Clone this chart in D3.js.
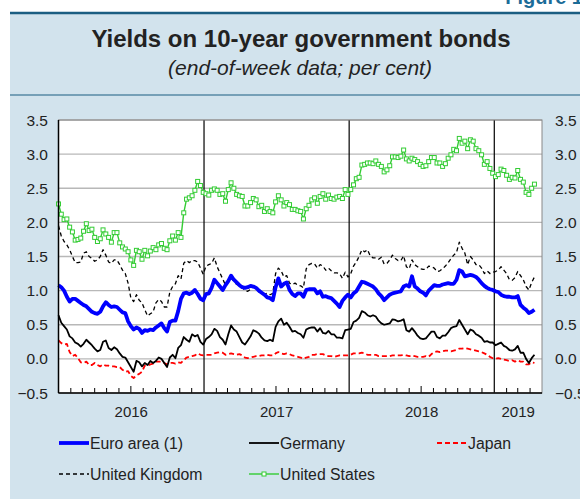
<!DOCTYPE html>
<html><head><meta charset="utf-8">
<script src="https://cdn.jsdelivr.net/npm/d3@7"></script>
<style>
html,body{margin:0;padding:0;background:#fff;}
svg{display:block;font-family:"Liberation Sans",Arial,sans-serif;}
</style></head>
<body><svg id="c" width="580" height="499"></svg>
<script>
// ---- data (end-of-week, from 1 Jan 2016, weekly) ----
const startDate = "2016-01-01";
const seriesNames = ["Euro area (1)", "Germany", "Japan", "United Kingdom", "United States"];
const yTicks = [-0.5, 0.0, 0.5, 1.0, 1.5, 2.0, 2.5, 3.0, 3.5];
const yearLabels = ["2016", "2017", "2018", "2019"];

const euroArea = [
 1.08,1.05,1.00,0.91,0.84,0.88,0.88,0.85,0.82,0.79,0.77,0.73,0.69,0.67,0.66,0.69,0.77,0.83,0.79,0.76,0.77,0.76,0.72,0.68,0.67,0.55,0.48,0.43,0.46,0.44,0.38,0.42,0.41,0.43,0.42,0.46,0.49,0.52,0.45,0.40,0.54,0.56,0.56,0.70,0.88,0.96,0.97,0.95,0.97,1.01,0.95,0.88,0.86,
 0.95,0.96,1.04,1.16,1.11,1.06,1.01,1.08,1.14,1.22,1.16,1.12,1.08,1.05,1.04,1.05,1.07,1.06,1.04,1.00,0.97,0.94,0.90,0.89,0.86,1.05,1.18,1.06,1.10,1.12,1.01,0.95,0.92,0.96,0.96,0.91,1.01,1.02,1.02,1.02,0.96,0.99,0.91,0.92,0.90,0.89,0.85,0.81,0.76,0.85,0.90,0.94,
 0.90,0.96,0.99,1.06,1.13,1.12,1.10,1.08,1.06,1.02,0.96,0.92,0.86,0.90,0.94,0.96,0.97,0.98,0.99,1.06,1.08,1.06,1.21,1.06,1.03,0.99,0.97,0.93,1.00,1.04,1.08,1.07,1.07,1.09,1.10,1.11,1.10,1.10,1.16,1.30,1.28,1.21,1.22,1.23,1.22,1.20,1.16,1.11,1.07,1.04,1.02,1.01,
 0.99,0.98,0.94,0.92,0.91,0.91,0.90,0.90,0.92,0.79,0.75,0.72,0.67,0.69,0.72];
const germany = [
 0.64,0.53,0.48,0.43,0.33,0.30,0.24,0.22,0.18,0.22,0.28,0.24,0.20,0.15,0.11,0.13,0.25,0.27,0.16,0.13,0.17,0.14,0.08,0.03,0.02,-0.05,-0.12,-0.19,-0.03,-0.05,-0.11,-0.06,-0.09,-0.03,-0.06,-0.03,0.02,0.00,-0.06,-0.12,0.02,0.06,0.01,0.16,0.20,0.32,0.28,0.25,0.36,0.33,0.35,0.25,0.21,
 0.29,0.32,0.36,0.44,0.41,0.32,0.28,0.21,0.36,0.49,0.43,0.40,0.32,0.24,0.21,0.27,0.33,0.42,0.40,0.37,0.31,0.27,0.26,0.28,0.26,0.47,0.55,0.59,0.50,0.53,0.47,0.40,0.41,0.38,0.36,0.31,0.43,0.45,0.46,0.46,0.40,0.45,0.38,0.37,0.41,0.36,0.36,0.31,0.31,0.30,0.42,0.43,
 0.44,0.54,0.56,0.60,0.70,0.68,0.64,0.62,0.64,0.62,0.56,0.52,0.50,0.51,0.52,0.58,0.57,0.55,0.56,0.58,0.42,0.40,0.45,0.40,0.34,0.30,0.29,0.30,0.35,0.40,0.40,0.32,0.30,0.34,0.34,0.39,0.45,0.47,0.48,0.57,0.50,0.43,0.36,0.43,0.41,0.36,0.34,0.31,0.25,0.26,0.24,0.24,
 0.20,0.22,0.24,0.19,0.17,0.13,0.12,0.14,0.19,0.09,0.09,0.00,-0.06,0.01,0.06];
const japan = [
 0.27,0.23,0.21,0.22,0.10,0.04,0.06,0.01,-0.05,-0.06,-0.04,-0.09,-0.09,-0.06,-0.09,-0.11,-0.08,-0.10,-0.10,-0.11,-0.11,-0.12,-0.12,-0.16,-0.19,-0.18,-0.25,-0.28,-0.24,-0.22,-0.19,-0.10,-0.10,-0.08,-0.07,-0.04,-0.04,-0.04,-0.06,-0.08,-0.06,-0.06,-0.07,-0.05,-0.06,-0.02,0.02,0.03,0.04,0.05,0.08,0.06,0.05,
 0.06,0.06,0.06,0.08,0.09,0.10,0.09,0.06,0.07,0.08,0.07,0.06,0.07,0.05,0.02,0.01,0.02,0.03,0.04,0.04,0.05,0.05,0.06,0.05,0.05,0.08,0.10,0.08,0.07,0.08,0.07,0.05,0.04,0.03,0.02,0.00,0.02,0.03,0.06,0.06,0.07,0.07,0.07,0.05,0.04,0.04,0.03,0.04,0.05,0.05,0.05,0.05,
 0.06,0.08,0.08,0.08,0.09,0.08,0.06,0.06,0.06,0.06,0.04,0.04,0.04,0.04,0.04,0.05,0.05,0.05,0.05,0.06,0.05,0.04,0.05,0.04,0.03,0.03,0.03,0.04,0.03,0.07,0.10,0.11,0.10,0.11,0.12,0.12,0.11,0.12,0.13,0.15,0.15,0.16,0.15,0.14,0.13,0.12,0.11,0.10,0.08,0.06,0.03,0.01,
 0.00,0.01,0.00,-0.01,-0.02,-0.03,-0.02,-0.04,-0.02,-0.04,-0.04,-0.08,-0.08,-0.05,-0.06];
const unitedKingdom = [
 1.95,1.80,1.72,1.67,1.60,1.50,1.41,1.41,1.42,1.55,1.57,1.50,1.47,1.43,1.45,1.50,1.60,1.52,1.42,1.40,1.45,1.45,1.38,1.30,1.25,1.11,0.89,0.84,0.94,0.86,0.82,0.72,0.63,0.66,0.69,0.82,0.87,0.84,0.76,0.76,0.98,1.06,1.10,1.22,1.17,1.40,1.44,1.41,1.44,1.44,1.42,1.33,1.24,
 1.36,1.38,1.40,1.48,1.35,1.26,1.17,1.08,1.14,1.18,1.14,1.09,1.08,1.05,1.00,0.99,1.02,1.06,1.04,0.98,0.97,0.95,0.96,0.94,0.96,1.25,1.33,1.29,1.20,1.22,1.11,1.09,1.11,1.08,1.07,1.04,1.32,1.38,1.40,1.39,1.33,1.38,1.36,1.30,1.33,1.29,1.26,1.26,1.25,1.18,1.27,1.20,
 1.25,1.36,1.42,1.50,1.60,1.57,1.60,1.51,1.48,1.48,1.46,1.49,1.39,1.40,1.45,1.52,1.47,1.44,1.44,1.51,1.35,1.32,1.45,1.38,1.35,1.32,1.31,1.31,1.36,1.35,1.33,1.28,1.29,1.32,1.36,1.41,1.47,1.52,1.56,1.71,1.62,1.55,1.38,1.50,1.45,1.38,1.38,1.33,1.25,1.29,1.25,1.27,
 1.28,1.30,1.35,1.30,1.25,1.16,1.15,1.19,1.28,1.22,1.16,1.06,1.01,1.12,1.20];
const unitedStates = [
 2.27,2.12,2.04,2.05,1.93,1.86,1.74,1.75,1.77,1.87,1.98,1.88,1.90,1.78,1.72,1.76,1.89,1.83,1.78,1.71,1.85,1.85,1.70,1.64,1.61,1.57,1.45,1.37,1.59,1.57,1.46,1.59,1.51,1.58,1.63,1.60,1.67,1.69,1.62,1.60,1.73,1.80,1.74,1.85,1.78,2.14,2.34,2.36,2.39,2.47,2.60,2.54,2.44,
 2.42,2.40,2.47,2.49,2.47,2.41,2.42,2.31,2.48,2.58,2.50,2.41,2.39,2.38,2.24,2.24,2.29,2.35,2.33,2.23,2.25,2.16,2.20,2.16,2.14,2.30,2.39,2.33,2.24,2.29,2.26,2.19,2.19,2.17,2.16,2.05,2.20,2.25,2.33,2.36,2.28,2.38,2.42,2.34,2.40,2.35,2.34,2.37,2.38,2.35,2.48,2.41,
 2.48,2.55,2.64,2.66,2.84,2.85,2.87,2.87,2.86,2.90,2.85,2.82,2.74,2.77,2.83,2.96,2.96,2.95,2.97,3.06,2.93,2.90,2.94,2.92,2.89,2.85,2.82,2.83,2.89,2.95,2.95,2.87,2.87,2.82,2.86,2.94,2.99,3.07,3.05,3.23,3.16,3.19,3.08,3.21,3.19,3.08,3.05,2.99,2.85,2.89,2.79,2.72,
 2.67,2.70,2.78,2.76,2.69,2.63,2.66,2.65,2.76,2.63,2.59,2.44,2.41,2.50,2.56];

// ---- layout ----
const svg = d3.select("#c");
const W = 580, H = 499;
const P = {l: 58.5, r: 542, t: 120, b: 393};
const parse = d3.timeParse("%Y-%m-%d");
const t0 = parse(startDate);
const dates = unitedStates.map((d, i) => d3.timeDay.offset(t0, 7 * i));

const x = d3.scaleTime().domain([parse("2016-01-01"), parse("2019-05-01")]).range([P.l, P.r]);
const y = d3.scaleLinear().domain([-0.5, 3.5]).range([P.b, P.t]);

const BG = "#d2e3ed", TEAL = "#1b5e82";
svg.append("rect").attr("x", 10).attr("y", 13).attr("width", W - 10).attr("height", H - 13).attr("fill", BG);
svg.append("line").attr("x1", 10).attr("x2", W).attr("y1", 13).attr("y2", 13).attr("stroke", TEAL).attr("stroke-width", 2.5);
svg.append("line").attr("x1", 10).attr("x2", W).attr("y1", 95).attr("y2", 95).attr("stroke", TEAL).attr("stroke-width", 1.2);
svg.append("text").attr("x", 583).attr("y", 4).attr("text-anchor", "end").attr("font-weight", "bold")
  .attr("font-size", 20).attr("fill", "#1c6c98").text("Figure 1");

svg.append("text").attr("x", 301).attr("y", 47).attr("text-anchor", "middle").attr("font-weight", "bold")
  .attr("font-size", 24).attr("fill", "#222").text("Yields on 10-year government bonds");
svg.append("text").attr("x", 300).attr("y", 75).attr("text-anchor", "middle").attr("font-style", "italic")
  .attr("font-size", 21).attr("fill", "#222").text("(end-of-week data; per cent)");

// plot area
svg.append("rect").attr("x", P.l).attr("y", P.t).attr("width", P.r - P.l).attr("height", P.b - P.t).attr("fill", "#fff");

const g = svg.append("g");
// gridlines
g.selectAll(".grid").data(yTicks.filter(v => v > -0.5)).join("line")
  .attr("x1", P.l).attr("x2", P.r).attr("y1", d => y(d)).attr("y2", d => y(d))
  .attr("stroke", "#b8b8b8").attr("stroke-width", 1.4);

// year separators
const yearStarts = [parse("2017-01-01"), parse("2018-01-01"), parse("2019-01-01")];
g.selectAll(".yr").data(yearStarts).join("line")
  .attr("x1", d => x(d)).attr("x2", d => x(d)).attr("y1", P.t).attr("y2", P.b)
  .attr("stroke", "#000").attr("stroke-width", 1.2);

// month ticks
const months = d3.timeMonth.range(parse("2016-02-01"), parse("2019-05-01")).filter(d => d.getMonth() !== 0);
g.selectAll(".mt").data(months).join("line")
  .attr("x1", d => x(d)).attr("x2", d => x(d)).attr("y1", P.b)
  .attr("y2", d => P.b - (d.getMonth() === 6 ? 7 : 5))
  .attr("stroke", "#000").attr("stroke-width", 1);

// frame
svg.append("rect").attr("x", P.l).attr("y", P.t).attr("width", P.r - P.l).attr("height", P.b - P.t)
  .attr("fill", "none").attr("stroke", "#888").attr("stroke-width", 1);
svg.append("line").attr("x1", P.l).attr("x2", P.l).attr("y1", P.t).attr("y2", P.b).attr("stroke", "#000").attr("stroke-width", 1.5);
svg.append("line").attr("x1", P.l).attr("x2", P.r).attr("y1", P.b).attr("y2", P.b).attr("stroke", "#000").attr("stroke-width", 1.5);

// axis labels
const fmt = d3.format(".1f");
svg.selectAll(".yl").data(yTicks).join("text").attr("x", 48).attr("y", d => y(d) + 5.5)
  .attr("text-anchor", "end").attr("font-size", 15.5).attr("fill", "#222").text(d => fmt(d));
svg.selectAll(".yr2").data(yTicks).join("text").attr("x", 555).attr("y", d => y(d) + 5.5)
  .attr("text-anchor", "start").attr("font-size", 15.5).attr("fill", "#222").text(d => fmt(d));

const yearMid = [["2016-01-01","2017-01-01"],["2017-01-01","2018-01-01"],["2018-01-01","2019-01-01"],["2019-01-01","2019-05-01"]];
svg.selectAll(".yx").data(yearLabels).join("text")
  .attr("x", (d, i) => (x(parse(yearMid[i][0])) + x(parse(yearMid[i][1]))) / 2)
  .attr("y", 416.5).attr("text-anchor", "middle").attr("font-size", 15).attr("fill", "#222").text(d => d);

// series
const line = d3.line().x((d, i) => x(dates[i])).y(d => y(d));
const styles = [
  {data: unitedStates, color: "#33cc33", w: 1.4, dash: null},
  {data: unitedKingdom, color: "#000", w: 1.3, dash: "4,3"},
  {data: japan, color: "#ff0000", w: 1.8, dash: "5,3"},
  {data: germany, color: "#000", w: 1.8, dash: null},
  {data: euroArea, color: "#0000ff", w: 3.8, dash: null}
];
styles.forEach(s => {
  g.append("path").datum(s.data).attr("d", line).attr("fill", "none")
    .attr("stroke", s.color).attr("stroke-width", s.w).attr("stroke-linejoin", "round")
    .attr("stroke-dasharray", s.dash);
});
g.selectAll(".usm").data(unitedStates).join("rect")
  .attr("x", (d, i) => x(dates[i]) - 2).attr("y", d => y(d) - 2).attr("width", 4).attr("height", 4)
  .attr("fill", "#fff").attr("stroke", "#33cc33").attr("stroke-width", 1);

// legend
const leg = [
  {name: seriesNames[0], x: 59, y: 443, color: "#0000ff", w: 3.8, dash: null},
  {name: seriesNames[1], x: 249, y: 443, color: "#000", w: 1.8, dash: null},
  {name: seriesNames[2], x: 437, y: 443, color: "#ff0000", w: 1.8, dash: "5,3"},
  {name: seriesNames[3], x: 59, y: 474, color: "#000", w: 1.3, dash: "4,3"},
  {name: seriesNames[4], x: 249, y: 474, color: "#33cc33", w: 1.4, dash: null, marker: true}
];
leg.forEach(l => {
  svg.append("line").attr("x1", l.x).attr("x2", l.x + 30).attr("y1", l.y).attr("y2", l.y)
    .attr("stroke", l.color).attr("stroke-width", l.w).attr("stroke-dasharray", l.dash);
  if (l.marker) svg.append("rect").attr("x", l.x + 13).attr("y", l.y - 2).attr("width", 4).attr("height", 4)
    .attr("fill", "#fff").attr("stroke", l.color).attr("stroke-width", 1);
  svg.append("text").attr("x", l.x + 31).attr("y", l.y + 5.5).attr("font-size", 15.8).attr("fill", "#222").text(l.name);
});
</script></body></html>
